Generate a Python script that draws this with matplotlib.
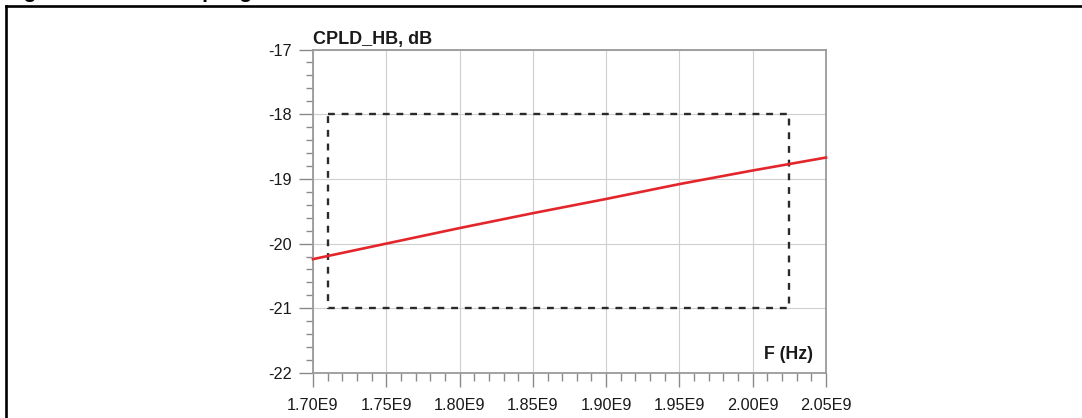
import matplotlib
matplotlib.use("Agg")
import matplotlib.pyplot as plt
from matplotlib.lines import Line2D
from matplotlib.ticker import MultipleLocator, FixedLocator

# ---- data ----
freq_hz = [1.70e9, 1.75e9, 1.80e9, 1.85e9, 1.90e9, 1.95e9, 2.00e9, 2.05e9]
cpld_hb_db = [-20.24, -20.00, -19.76, -19.53, -19.31, -19.08, -18.87, -18.67]

mask_f_lo, mask_f_hi = 1.71e9, 2.025e9
mask_db_lo, mask_db_hi = -21.0, -18.0

x_ticks = [1.70e9, 1.75e9, 1.80e9, 1.85e9, 1.90e9, 1.95e9, 2.00e9, 2.05e9]
x_tick_labels = ["1.70E9", "1.75E9", "1.80E9", "1.85E9", "1.90E9", "1.95E9", "2.00E9", "2.05E9"]
y_ticks = [-22, -21, -20, -19, -18, -17]
y_tick_labels = ["-22", "-21", "-20", "-19", "-18", "-17"]

y_label = "CPLD_HB, dB"
x_label = "F (Hz)"
fig_title = "Figure 21.          Coupling"

plt.rcParams['font.family'] = ['Liberation Sans', 'DejaVu Sans']

W, H = 1082, 418
fig = plt.figure(figsize=(W / 100, H / 100), dpi=100)
fig.patch.set_facecolor("white")

L, R, T, B = 313, 826, 49.5, 373
ax = fig.add_axes([L / W, 1 - B / H, (R - L) / W, (B - T) / H])

# red curve
ax.plot(freq_hz, cpld_hb_db, color="#e3262b", lw=1.9, zorder=4, clip_on=False)

# dashed mask box
box_x = [mask_f_lo, mask_f_hi, mask_f_hi, mask_f_lo, mask_f_lo]
box_y = [mask_db_hi, mask_db_hi, mask_db_lo, mask_db_lo, mask_db_hi]
ax.plot(box_x, box_y, color="#2a2a2a", lw=1.7, linestyle=(0, (2.9, 2.9)), zorder=3)

ax.set_xlim(1.70e9, 2.05e9)
ax.set_ylim(-22, -17)

ax.xaxis.set_major_locator(FixedLocator(x_ticks))
ax.set_xticklabels(x_tick_labels)
ax.xaxis.set_minor_locator(MultipleLocator(0.01e9))
ax.yaxis.set_major_locator(FixedLocator(y_ticks))
ax.set_yticklabels(y_tick_labels)
ax.yaxis.set_minor_locator(MultipleLocator(0.2))

ax.grid(True, which="major", color="#cfcfcf", lw=0.8, zorder=0)
ax.set_axisbelow(True)

for s in ax.spines.values():
    s.set_color("#9a9a9a")
    s.set_linewidth(1.3)

ax.tick_params(axis="both", which="major", direction="out", color="#8a8a8a",
               width=1.0, labelsize=11.7, labelcolor="#1a1a1a")
ax.tick_params(axis="x", which="major", length=10, pad=8)
ax.tick_params(axis="x", which="minor", direction="out", length=6, color="#8a8a8a", width=1.0)
ax.tick_params(axis="y", which="major", length=10, pad=5)
ax.tick_params(axis="y", which="minor", direction="out", length=5, color="#8a8a8a", width=1.0)

# axis captions as in the reference
ax.text(0.0, 1.004, y_label, transform=ax.transAxes, ha="left", va="bottom",
        fontsize=13, fontweight="bold", color="#1a1a1a")
ax.text(0.975, 0.03, x_label, transform=ax.transAxes, ha="right", va="bottom",
        fontsize=12.8, fontweight="bold", color="#1a1a1a")

# outer frame (top and left edges visible)
fig.add_artist(Line2D([6 / W, 6 / W], [1 - 6 / H, -0.05], transform=fig.transFigure,
                      color="black", lw=1.9))
fig.add_artist(Line2D([6 / W, 1.05], [1 - 6 / H, 1 - 6 / H], transform=fig.transFigure,
                      color="black", lw=1.9))

# cut-off figure caption above the frame (as in the reference)
fig.text(5 / W, 1 + 1.5 / H, fig_title, ha="left", va="baseline",
         fontsize=15, fontweight="bold", color="black")

fig.savefig("out.png", dpi=100, facecolor="white")
